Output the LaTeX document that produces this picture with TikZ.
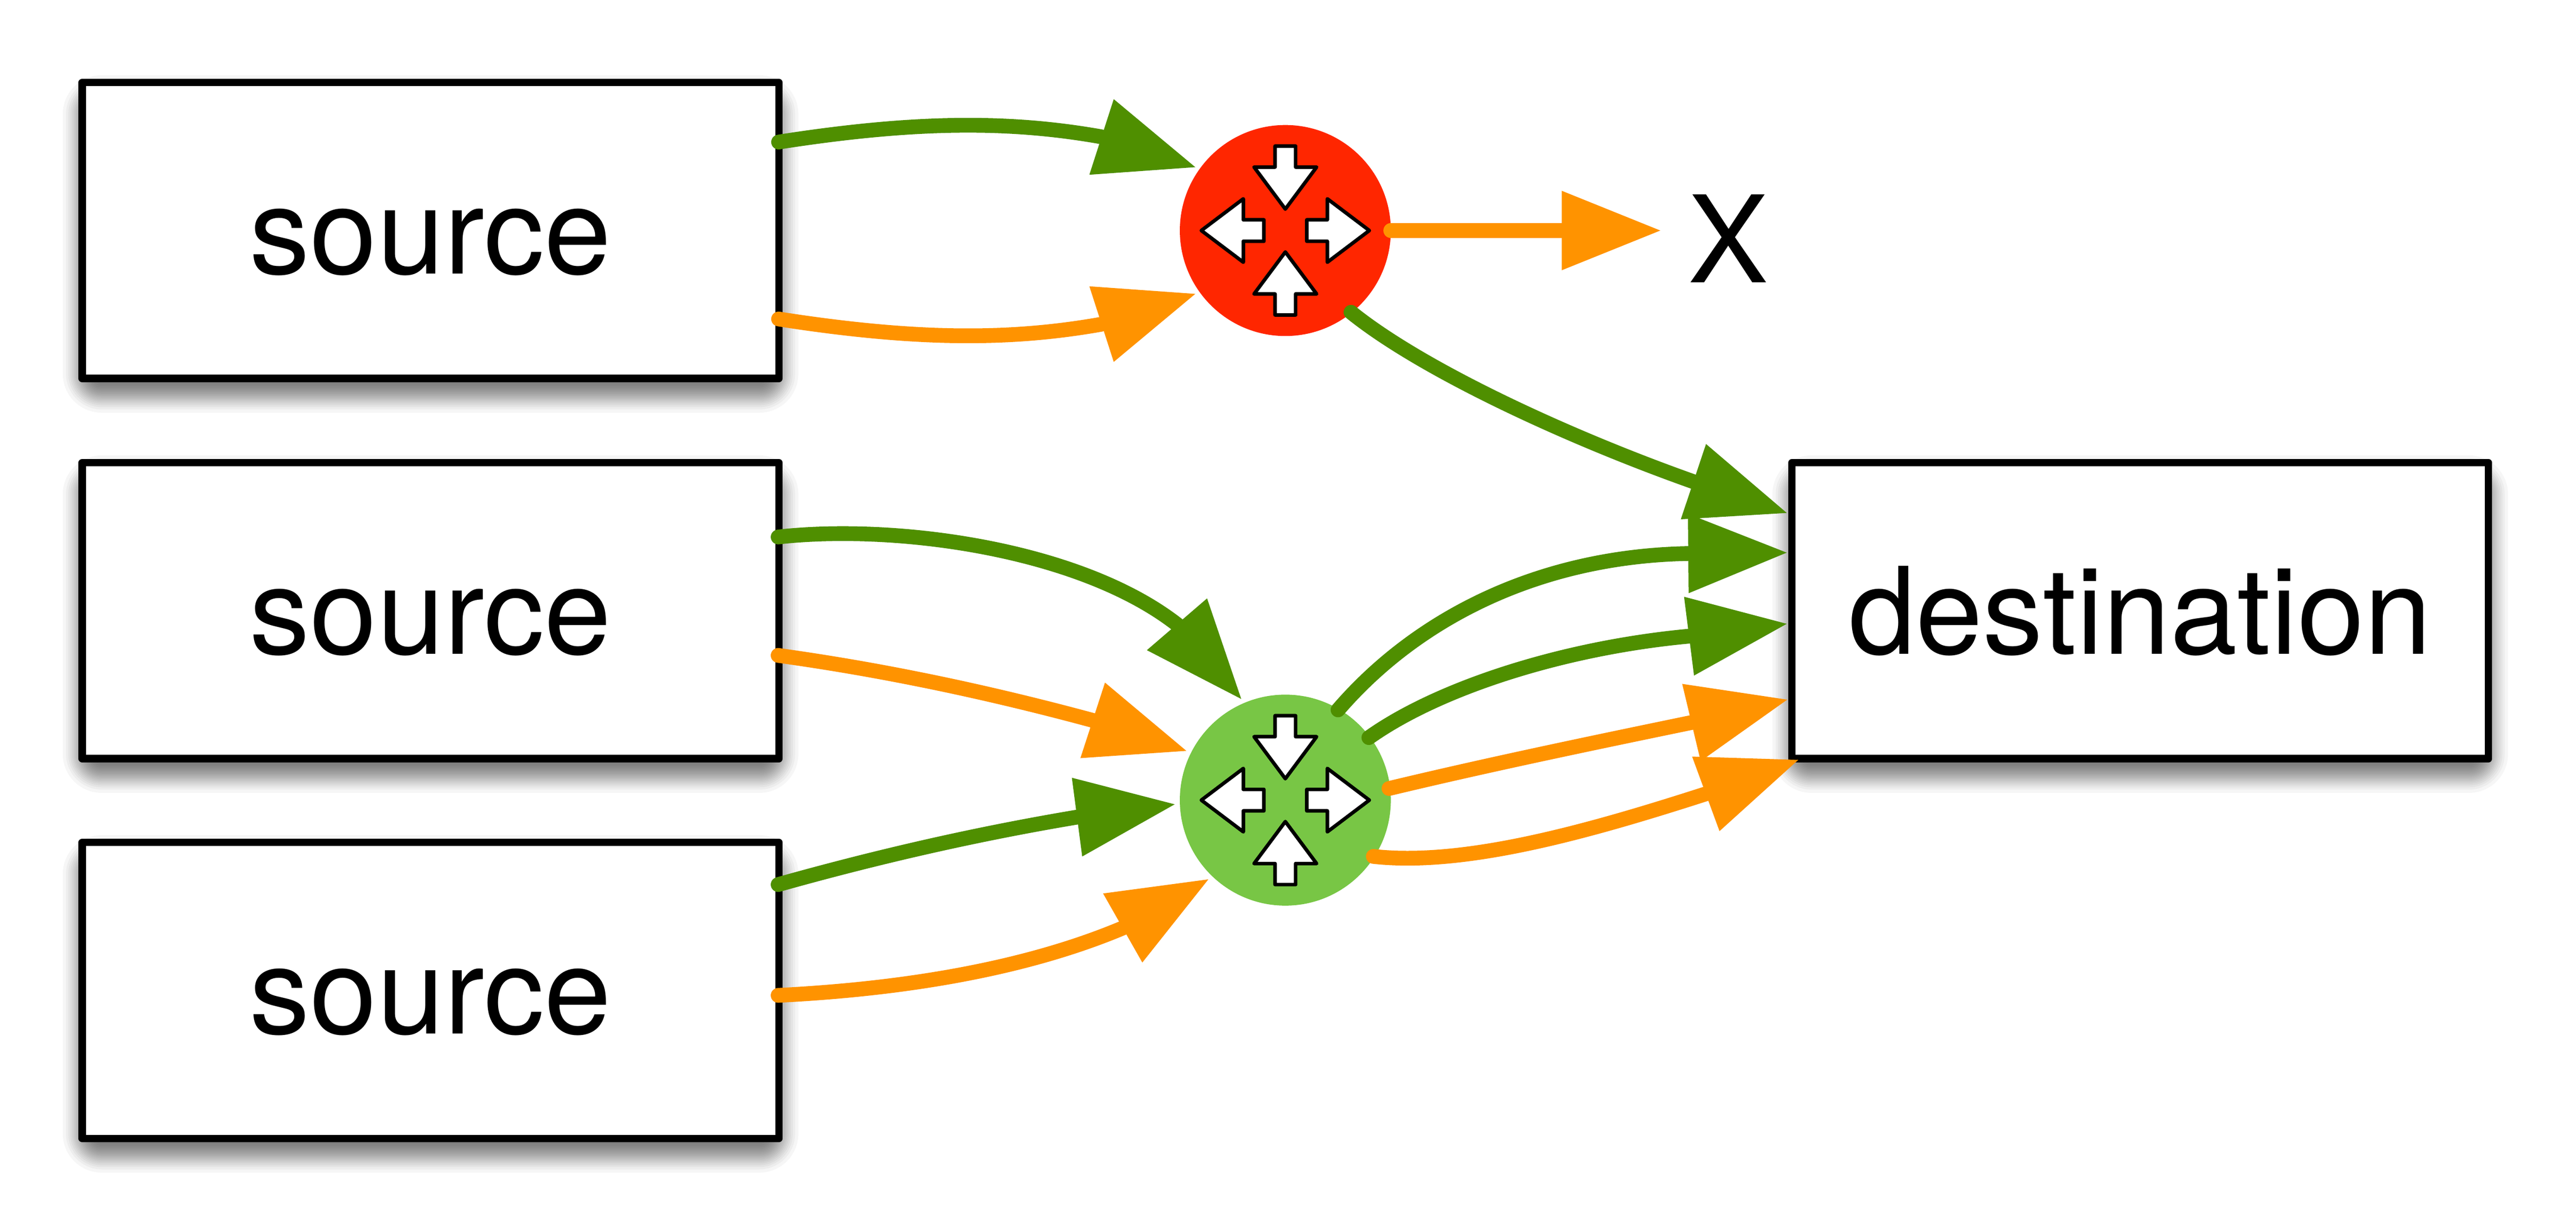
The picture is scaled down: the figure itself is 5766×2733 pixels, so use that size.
\documentclass[tikz,border=0pt]{standalone}
\usepackage{fontspec}
\setmainfont{TeX Gyre Heros}
\usetikzlibrary{arrows.meta,calc,backgrounds}
\definecolor{clover}{HTML}{4F8F00}
\definecolor{tangerine}{HTML}{FF9300}
\definecolor{marasch}{HTML}{FF2600}
\definecolor{lightgr}{HTML}{78C645}
\tikzset{
  x=0.01cm,y=-0.01cm,
  bigtext/.style={font=\fontsize{76.8}{80}\selectfont},
  boxnode/.style={draw=black,fill=white,line width=0.165cm,line join=round,rectangle,
    minimum width=15.585cm,minimum height=6.62cm,inner sep=0pt,bigtext,
    text height=1.93cm,text depth=0pt},
  routernode/.style={circle,minimum size=4.72cm,inner sep=0pt,outer sep=0pt},
  conn/.style={line width=0.33cm,line cap=round,line join=round,
    -{Triangle[length=2.23cm,width=1.68cm]}},
  gconn/.style={conn,draw=clover},
  oconn/.style={conn,draw=tangerine},
  iconarrow/.style={draw=black,fill=white,line width=0.08cm,line join=round},
  icons/.pic={
    \foreach \a in {0,180}{
      \draw[iconarrow,rotate=\a] (-23,-189) -- (23,-189) -- (23,-142) -- (70,-142)
        -- (0,-48) -- (-70,-142) -- (-23,-142) -- cycle;
      \draw[iconarrow,rotate=\a] (-188,0) -- (-94,-71) -- (-94,-24) -- (-48,-24)
        -- (-48,24) -- (-94,24) -- (-94,71) -- cycle;
    }
  }
}
\newcommand{\softshadow}[1]{%
  \foreach \k in {0,...,19}{%
    \pgfmathsetmacro{\e}{48*asin(2*(\k+0.5)/20-1)/90}%
    \pgfmathsetmacro{\r}{(\e+49)*0.01}%
    \fill[black,opacity=0.035,rounded corners=\r cm]
      ($(#1.north west)+(-\e+3,30-\e)$) rectangle ($(#1.south east)+(\e-3,30+\e)$);
  }%
}
\begin{document}
\begin{tikzpicture}
\path[use as bounding box] (0,0) rectangle (5766,2733);
% boxes
\node[boxnode] (s1) at (963.75,516) {source};
\node[boxnode] (s2) at (963.75,1367) {source};
\node[boxnode] (s3) at (963.75,2217) {source};
\node[boxnode] (dest) at (4790.5,1367) {destination};
\begin{scope}[on background layer]
  \fill[white] (0,0) rectangle (5766,2733);
  \softshadow{s1}\softshadow{s2}\softshadow{s3}\softshadow{dest}
\end{scope}
% routers
\node[routernode,fill=marasch] (r1) at (2877,516) {};
\node[routernode,fill=lightgr] (r2) at (2877,1791) {};
\pic at (r1) {icons};
\pic at (r2) {icons};
\node[bigtext,inner sep=0pt] (x) at (3869,534) {X};
% ports
\coordinate (s1g) at ($(s1)+(779,-198)$);
\coordinate (s1o) at ($(s1)+(779,198)$);
\coordinate (s2g) at ($(s2)+(778,-165)$);
\coordinate (s2o) at ($(s2)+(778,100)$);
\coordinate (s3g) at ($(s3)+(778,-237)$);
\coordinate (s3o) at ($(s3)+(778,11)$);
\coordinate (r1x) at ($(r1)+(236,0)$);
\coordinate (r1d) at ($(r1)+(147,183)$);
\coordinate (r2a) at ($(r2)+(118,-202)$);
\coordinate (r2b) at ($(r2)+(187,-140)$);
\coordinate (r2c) at ($(r2)+(232,-26)$);
\coordinate (r2e) at ($(r2)+(197,126)$);
% heads
\coordinate (r1ing) at (2678,375);
\coordinate (r1ino) at (2678,657);
\coordinate (xin) at (3719,516);
\coordinate (r2ina) at (2780,1566.5);
\coordinate (r2inb) at (2658,1681.5);
\coordinate (r2inc) at (2632,1800);
\coordinate (r2ine) at (2707,1967);
\coordinate (da) at (4002,1149);
\coordinate (db) at (4002,1237);
\coordinate (dc) at (4002,1396);
\coordinate (dd) at (4003,1565.5);
\coordinate (de) at (4027.6,1700);
% connectors
\draw[gconn] (s1g) .. controls (2050,270) and (2260,270) .. (2464,306) -- (r1ing);
\draw[oconn] (s1o) .. controls (2050,762) and (2260,762) .. (2464,726) -- (r1ino);
\draw[oconn] (r1x) -- (3496,516) -- (xin);
\draw[gconn] (s2g) .. controls (2010,1172) and (2420,1230) .. (2635,1398) -- (r2ina);
\draw[oconn] (s2o) .. controls (1980,1500) and (2215,1550) .. (2446,1612.5) -- (r2inb);
\draw[gconn] (s3g) .. controls (1970,1916) and (2190,1866) .. (2411,1829) -- (r2inc);
\draw[oconn] (s3o) .. controls (2000,2215) and (2280,2175) .. (2512.5,2077.5) -- (r2ine);
\draw[oconn] (r2e) .. controls (3280,1940) and (3560,1860) .. (3818,1777) -- (de);
\draw[oconn] (r2c) .. controls (3330,1712) and (3560,1664) .. (3785,1617.5) -- (dd);
\draw[gconn] (r2b) .. controls (3220,1540) and (3500,1450) .. (3780.5,1424) -- (dc);
\draw[gconn] (r2a) .. controls (3175,1380) and (3450,1245) .. (3779,1239) -- (db);
\draw[gconn] (r1d) .. controls (3180,825) and (3500,975) .. (3790,1078) -- (da);
\end{tikzpicture}
\end{document}
